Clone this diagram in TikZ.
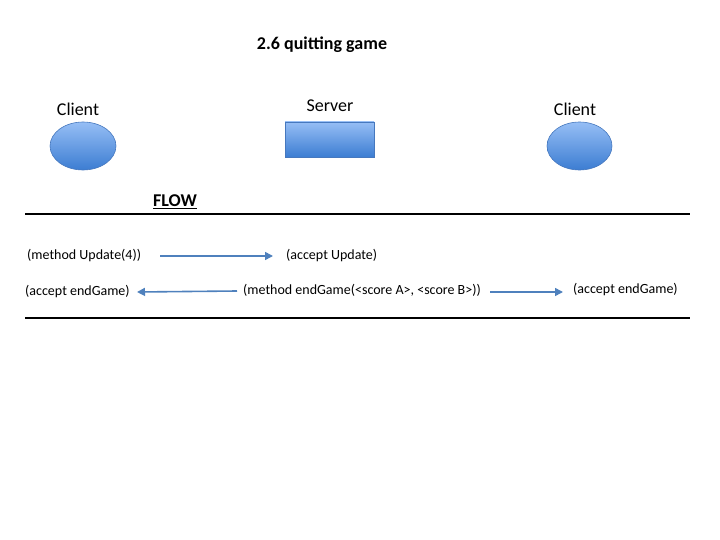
\documentclass[tikz,border=0pt]{standalone}
\usepackage{fontspec}
\setmainfont{Carlito}
\usetikzlibrary{shapes.geometric,arrows.meta}
\definecolor{arrowblue}{RGB}{79,129,189}
\definecolor{topblue}{RGB}{150,190,245}
\definecolor{botblue}{RGB}{60,125,210}
\definecolor{edgeblue}{RGB}{70,120,190}
\tikzset{
  shapefill/.style={top color=topblue,bottom color=botblue,draw=edgeblue,line width=0.6pt},
  lbl/.style={font=\fontsize{18}{21}\selectfont,inner sep=0pt},
  msg/.style={font=\fontsize{14}{16}\selectfont,inner sep=0pt,anchor=west},
  flowarrow/.style={draw=arrowblue,line width=1.6pt,-{Triangle[length=8pt,width=8pt]}},
  rule/.style={line width=1.5pt,black}
}
\begin{document}
\begin{tikzpicture}[x=1pt,y=-1pt]
\useasboundingbox (0,0) rectangle (720,540);
\node[lbl,font=\fontsize{18}{21}\selectfont\bfseries] (title) at (322,45) {2.6 quitting game};
\node[lbl] (cl) at (78,109) {Client};
\node[ellipse,shapefill,minimum width=66pt,minimum height=48pt,inner sep=0pt] (c1) at (83,146) {};
\node[lbl] (sl) at (330,106) {Server};
\node[rectangle,shapefill,minimum width=89pt,minimum height=35pt,inner sep=0pt] (srv) at (329.5,139.5) {};
\node[lbl] (cr) at (575,109) {Client};
\node[ellipse,shapefill,minimum width=65pt,minimum height=48pt,inner sep=0pt] (c2) at (579.5,146) {};
\node[lbl,font=\fontsize{18}{21}\selectfont\bfseries] (flow) at (175,202) {\underline{FLOW}};
\coordinate (r1a) at (25,214);
\coordinate (r1b) at (690,214);
\draw[rule] (r1a) -- (r1b);
\node[msg] (m1) at (27,256) {(method Update(4))};
\node[msg] (a1) at (286,256) {(accept Update)};
\coordinate (p1) at (160,256);
\coordinate (p2) at (273,256);
\draw[flowarrow] (p1) -- (p2);
\node[msg] (a2) at (25,292) {(accept endGame)};
\node[msg] (m2) at (243,290) {(method endGame(<score A>, <score B>))};
\node[msg] (a3) at (573,290) {(accept endGame)};
\coordinate (q1) at (237,291);
\coordinate (q2) at (137,292);
\draw[flowarrow] (q1) -- (q2);
\coordinate (s1) at (490,292);
\coordinate (s2) at (563,292);
\draw[flowarrow] (s1) -- (s2);
\coordinate (r2a) at (25,318);
\coordinate (r2b) at (690,318);
\draw[rule] (r2a) -- (r2b);
\end{tikzpicture}
\end{document}
